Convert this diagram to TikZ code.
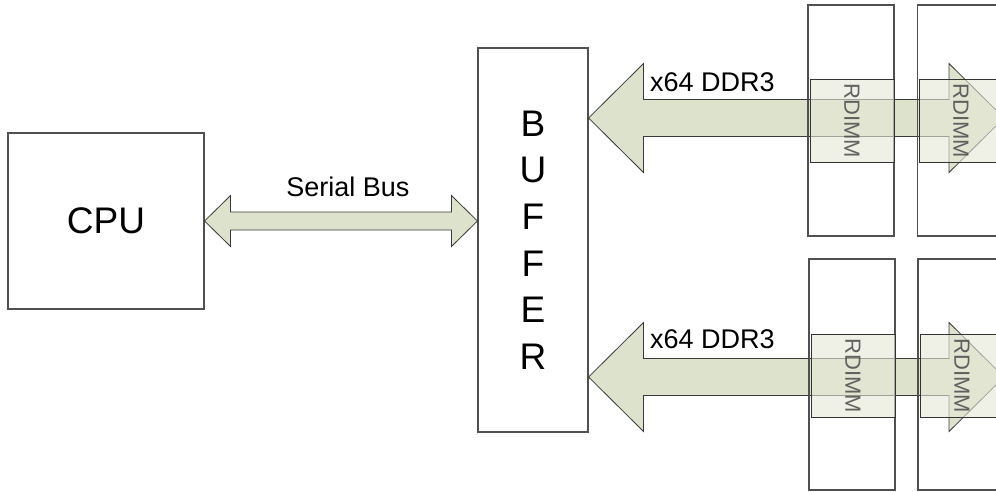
\documentclass[tikz,border=0pt]{standalone}
\usepackage{fontspec}
\setmainfont{Liberation Sans}
\usetikzlibrary{calc}
\definecolor{busfill}{HTML}{DDE2CC}
\definecolor{busline}{HTML}{3A3A3A}
\definecolor{boxline}{HTML}{505050}
\definecolor{tagfill}{HTML}{E4E7D6}
\definecolor{tagtext}{HTML}{4A4A4A}

% Horizontal double-headed block arrow between two points.
% #1,#2: end points; #3: half shaft width; #4: half head width; #5: head length
\newcommand\busarrow[5]{%
  \path[busstyle] let \p1=(#1), \p2=(#2) in
    (\x1,\y1) -- (\x1+#5,\y1+#4) -- (\x1+#5,\y1+#3) -- (\x2-#5,\y1+#3)
    -- (\x2-#5,\y1+#4) -- (\x2,\y1) -- (\x2-#5,\y1-#4) -- (\x2-#5,\y1-#3)
    -- (\x1+#5,\y1-#3) -- (\x1+#5,\y1-#4) -- cycle;}

\begin{document}
\begin{tikzpicture}[x=1pt,y=-1pt,
  block/.style={draw=boxline,line width=1.1pt,fill=white,inner sep=0pt},
  slot/.style={draw=boxline,line width=1.1pt,inner sep=0pt,minimum width=86pt,minimum height=231pt},
  tag/.style={draw=black!80,line width=0.8pt,fill=tagfill,fill opacity=0.6,text opacity=0.85,
    text=tagtext,inner sep=0pt,minimum width=84pt,minimum height=83pt,font=\fontsize{22}{22}\selectfont},
  busstyle/.style={draw=busline,line width=0.8pt,fill=busfill,line join=miter},
  lbl/.style={font=\fontsize{27}{27}\selectfont,inner sep=0pt}]
\useasboundingbox (0,0) rectangle (996,491);
\clip (0,0) rectangle (996,491);

% main blocks
\node[block,minimum width=196pt,minimum height=176pt,font=\fontsize{37}{37}\selectfont]
  (cpu) at (106,221) {CPU};
\node[block,minimum width=110pt,minimum height=384pt,align=center,
  font=\fontsize{37}{46.6}\selectfont] (buf) at (533,240) {B\\U\\F\\F\\E\\R};

% serial link between CPU and buffer
\coordinate (sbL) at (cpu.east |- 0,221);
\coordinate (sbR) at (buf.west |- 0,221);
\busarrow{sbL}{sbR}{9pt}{25.5pt}{26pt}
\node[lbl] (sblabel) at (348,187) {Serial Bus};

% DDR3 channels towards the DIMM slots
\coordinate (chAL) at (buf.east |- 0,118);
\coordinate (chAR) at (1004,118);
\coordinate (chBL) at (buf.east |- 0,377);
\coordinate (chBR) at (1004,377);
\busarrow{chAL}{chAR}{18.5pt}{54.5pt}{55pt}
\busarrow{chBL}{chBR}{18.5pt}{54.5pt}{55pt}
\node[lbl,anchor=west] (chAlabel) at (650,82) {x64 DDR3};
\node[lbl,anchor=west] (chBlabel) at (650,339) {x64 DDR3};

% DIMM slots
\node[slot] (sA1) at (851,120.5) {};
\node[slot] (sA2) at (960.5,120.5) {};
\node[slot] (sB1) at (852,374.5) {};
\node[slot] (sB2) at (961,374.5) {};

% RDIMM tags
\node[tag] (tA1) at (852,121) {\rotatebox{-90}{RDIMM}};
\node[tag] (tA2) at (961,121) {\rotatebox{-90}{RDIMM}};
\node[tag] (tB1) at (853,375.5) {\rotatebox{-90}{RDIMM}};
\node[tag] (tB2) at (962,375.5) {\rotatebox{-90}{RDIMM}};
\end{tikzpicture}
\end{document}
